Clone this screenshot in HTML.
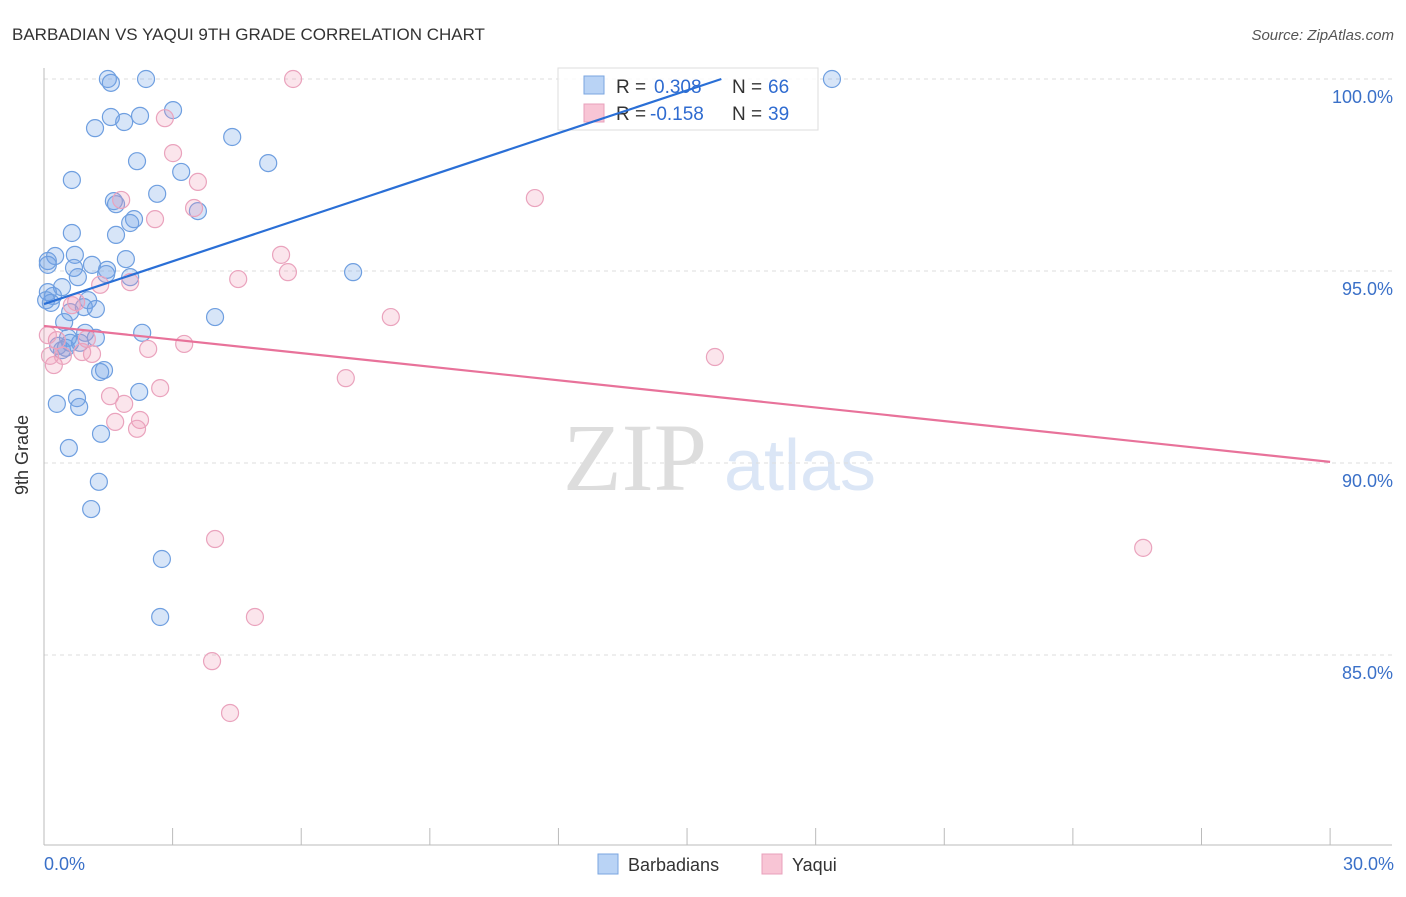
<!DOCTYPE html>
<html><head><meta charset="utf-8"><style>
body{margin:0;background:#fff;font-family:"Liberation Sans",sans-serif}
svg text{font-family:"Liberation Sans",sans-serif}
</style></head><body>
<svg id="chart" width="1406" height="892" viewBox="0 0 1406 892">
<text x="12" y="40" font-size="17" fill="#333">BARBADIAN VS YAQUI 9TH GRADE CORRELATION CHART</text>
<text x="1394" y="40" font-size="15" fill="#555" text-anchor="end" font-style="italic">Source: ZipAtlas.com</text>
<g>
<text x="635" y="490" font-size="96" fill="#ddd" text-anchor="middle" font-family="Liberation Serif" style="font-family:'Liberation Serif',serif">ZIP</text>
<text x="800" y="490" font-size="72" fill="#dbe6f6" text-anchor="middle">atlas</text>
</g>
<g id="grid"></g>
<g id="axes"></g>
<g id="pts"></g>
<g>
<rect x="558" y="68" width="260" height="62" fill="#fff" fill-opacity="0.85" stroke="#ddd"/>
<rect x="584" y="76" width="20" height="18" fill="#b9d3f5" stroke="#7aa6e0"/>
<text x="616" y="93" font-size="19" fill="#333">R =</text>
<text x="654" y="93" font-size="19" fill="#2f6bd0">0.308</text>
<text x="732" y="93" font-size="19" fill="#333">N =</text>
<text x="768" y="93" font-size="19" fill="#2f6bd0">66</text>
<rect x="584" y="104" width="20" height="18" fill="#f8c5d5" stroke="#e8a0bb"/>
<text x="616" y="120" font-size="19" fill="#333">R =</text>
<text x="650" y="120" font-size="19" fill="#2f6bd0">-0.158</text>
<text x="732" y="120" font-size="19" fill="#333">N =</text>
<text x="768" y="120" font-size="19" fill="#2f6bd0">39</text>
</g>
<g id="lines"></g>
<text x="28" y="455" font-size="18" fill="#333" text-anchor="middle" transform="rotate(-90 28 455)">9th Grade</text>
<text x="44" y="870" font-size="18" fill="#3a70c8">0.0%</text>
<text x="1394" y="870" font-size="18" fill="#3a70c8" text-anchor="end">30.0%</text>
<g>
<rect x="598" y="854" width="20" height="20" fill="#b9d3f5" stroke="#7aa6e0"/>
<text x="628" y="871" font-size="18" fill="#333">Barbadians</text>
<rect x="762" y="854" width="20" height="20" fill="#f8c5d5" stroke="#e8a0bb"/>
<text x="792" y="871" font-size="18" fill="#333">Yaqui</text>
</g>
</svg>
<script>
const yTicks=[100,95,90,85];
const yTickLabels=["100.0%","95.0%","90.0%","85.0%"];
const xTicks=[0,3,6,9,12,15,18,21,24,27,30];
const blueX=[1.49,1.56,2.38,18.38,2.24,1.56,3.01,1.19,1.87,4.39,2.17,3.20,5.23,0.65,2.64,1.63,1.68,3.59,2.10,2.01,1.68,0.65,0.26,0.09,0.72,0.70,1.12,1.91,1.47,1.45,2.01,0.79,7.21,0.42,0.09,0.21,0.16,1.03,0.93,1.21,0.61,0.47,2.29,3.99,0.96,0.56,1.21,0.84,0.33,0.42,1.40,1.31,2.22,0.77,0.30,0.82,1.33,0.58,1.28,1.10,2.75,2.71,0.09,0.51,0.05,0.61];
const blueY=[100,99.9,100,100,99.04,99.01,99.19,98.72,98.88,98.49,97.86,97.58,97.81,97.37,97.01,96.82,96.74,96.56,96.35,96.25,95.94,95.99,95.39,95.26,95.42,95.08,95.16,95.31,95.03,94.92,94.84,94.84,94.97,94.58,94.45,94.35,94.17,94.24,94.06,94.01,93.93,93.67,93.39,93.80,93.39,93.26,93.26,93.13,93.05,92.94,92.42,92.37,91.85,91.69,91.54,91.46,90.76,90.39,89.51,88.80,87.50,85.99,95.16,93.0,94.24,93.13];
const pinkX=[5.81,2.82,3.01,3.59,1.80,2.59,3.50,11.45,5.53,5.69,4.53,2.01,1.31,0.75,0.65,8.09,1.00,3.27,2.43,0.30,1.12,0.89,15.65,0.23,7.04,2.71,1.54,1.87,2.24,1.66,2.17,3.99,25.64,4.92,3.92,4.34,0.14,0.44,0.09];
const pinkY=[100,98.98,98.07,97.32,96.85,96.35,96.64,96.90,95.42,94.97,94.79,94.71,94.64,94.19,94.11,93.80,93.23,93.10,92.97,93.20,92.84,92.89,92.76,92.55,92.21,91.95,91.74,91.54,91.12,91.07,90.89,88.02,87.79,85.99,84.84,83.49,92.79,92.79,93.33];
const blueTrend=[[0,94.14],[15.8,100]];
const pinkTrend=[[0,93.57],[30,90.03]];
const NS="http://www.w3.org/2000/svg";
const sx=v=>44+v*42.87, sy=v=>79+(100-v)*38.4;
function mk(tag,attrs,parent){const e=document.createElementNS(NS,tag);for(const k in attrs)e.setAttribute(k,attrs[k]);parent.appendChild(e);return e;}
const grid=document.getElementById('grid'),axes=document.getElementById('axes'),pts=document.getElementById('pts'),lines=document.getElementById('lines');
yTicks.forEach((t,i)=>{
 const l=mk('line',{x1:44,x2:1392,y1:sy(t),y2:sy(t),stroke:'#ddd','stroke-dasharray':'4,4'},grid);
 
 
 const tx=mk('text',{x:1393,y:sy(t)+24,'font-size':18,fill:'#3a70c8','text-anchor':'end'},grid);
 tx.textContent=yTickLabels[i];
 
 
});
const ya=mk('line',{x1:44,x2:44,y1:68,y2:845,stroke:'#bbb'},axes);


const xa=mk('line',{x1:44,x2:1392,y1:845,y2:845,stroke:'#bbb'},axes);


xTicks.forEach(t=>{
 const l=mk('line',{x1:sx(t),x2:sx(t),y1:828,y2:845,stroke:'#bbb'},axes);
 
 
});
blueX.forEach((v,i)=>{
 const c=mk('circle',{cx:sx(v),cy:sy(blueY[i]),r:8.5,fill:'rgba(110,160,230,0.28)',stroke:'#6f9fe0','stroke-width':1.2},pts);
 
 
});
pinkX.forEach((v,i)=>{
 const c=mk('circle',{cx:sx(v),cy:sy(pinkY[i]),r:8.5,fill:'rgba(240,150,180,0.25)',stroke:'#eaa3bd','stroke-width':1.2},pts);
 
 
});
const bl=mk('line',{x1:sx(blueTrend[0][0]),y1:sy(blueTrend[0][1]),x2:sx(blueTrend[1][0]),y2:sy(blueTrend[1][1]),stroke:'#2a6fd6','stroke-width':2.2},lines);


const pl=mk('line',{x1:sx(pinkTrend[0][0]),y1:sy(pinkTrend[0][1]),x2:sx(pinkTrend[1][0]),y2:sy(pinkTrend[1][1]),stroke:'#e8729a','stroke-width':2.2},lines);


</script>
</body></html>
